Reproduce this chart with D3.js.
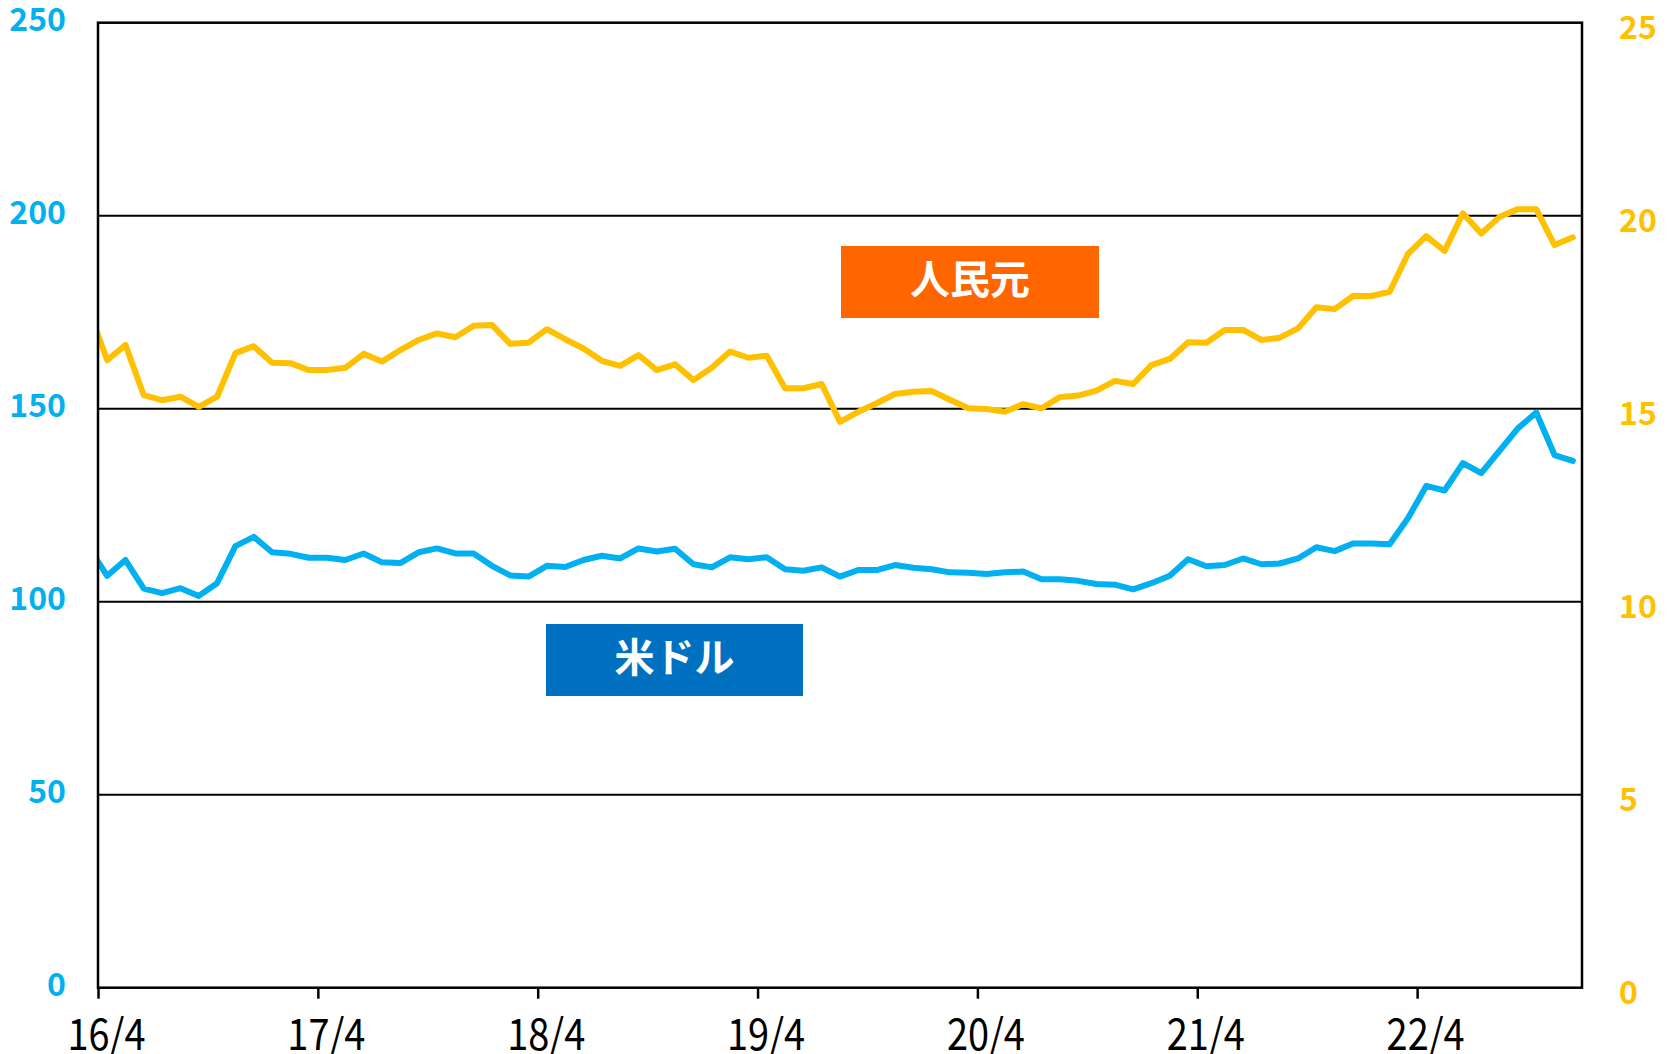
<!DOCTYPE html>
<meta charset="utf-8">
<html>
  <style>
    body, html{ margin: 0; background: #fff;}
    .grid line{ stroke: #000; stroke-width: 2; }
    .frame{ fill: none; stroke: #000; stroke-width: 2.5; }
    .line{ fill: none; stroke-width: 6; stroke-linejoin: round; stroke-linecap: round; }
    .yl text{ font-family: "Noto Sans CJK JP", "Noto Sans", sans-serif; font-weight: bold; font-size: 32px; }
    .xaxis text{ font-family: "Noto Sans CJK JP", sans-serif; font-size: 43px; fill: #000; }
    .xaxis line, .xaxis path{ stroke: #000; stroke-width: 2.5; }
    .tag text{ font-family: "Noto Sans CJK JP", sans-serif; font-weight: bold; font-size: 40px; fill: #fff; }
  </style>
  <body>
    <svg></svg>
    <script src="https://cdn.jsdelivr.net/npm/d3@7"></script>
    <script>
// months 2016/3 .. 2022/12 (first one sits left of the axis and is clipped)
var firstMonth = new Date(2016, 2, 1)
  , lastMonth = new Date(2022, 11, 1)
  , months = d3.timeMonth.range(firstMonth, d3.timeMonth.offset(lastMonth, 1))

// 米ドル (yen per dollar, left axis)
var usd = [114.1,
  106.7,110.8,103.4,102.2,103.5,101.5,104.8,114.4,116.8,112.8,112.4,111.4,
  111.4,110.8,112.5,110.2,110.0,112.8,113.8,112.5,112.5,109.3,106.8,106.5,
  109.3,109.0,110.8,111.9,111.2,113.8,113.0,113.7,109.7,108.9,111.5,111.0,
  111.5,108.4,108.0,108.9,106.5,108.2,108.2,109.5,108.8,108.4,107.6,107.5,
  107.2,107.6,107.8,105.8,105.8,105.4,104.6,104.4,103.2,104.8,106.7,111.0,
  109.2,109.5,111.2,109.7,109.9,111.2,114.1,113.1,115.1,115.1,114.9,121.6,
  130.0,128.8,135.9,133.3,139.1,144.9,149.0,138.0,136.5]

// 人民元 (yen per yuan, right axis)
var cny = [17.55,
  16.26,16.65,15.35,15.22,15.31,15.05,15.31,16.44,16.62,16.19,16.18,16.00,
  16.00,16.06,16.42,16.22,16.52,16.78,16.95,16.85,17.15,17.17,16.68,16.71,
  17.06,16.80,16.56,16.24,16.11,16.39,16.00,16.15,15.74,16.06,16.48,16.32,
  16.37,15.53,15.53,15.64,14.66,14.92,15.14,15.38,15.44,15.46,15.23,15.01,
  14.99,14.92,15.12,15.01,15.30,15.34,15.47,15.72,15.64,16.13,16.29,16.72,
  16.71,17.04,17.04,16.78,16.84,17.08,17.63,17.58,17.92,17.92,18.03,19.01,
  19.47,19.09,20.06,19.54,19.97,20.17,20.17,19.24,19.44]

var leftTicks = [0, 50, 100, 150, 200, 250]
  , rightTicks = [0, 5, 10, 15, 20, 25]
  , xTickMonths = [new Date(2016,3,1), new Date(2017,3,1), new Date(2018,3,1), new Date(2019,3,1),
                   new Date(2020,3,1), new Date(2021,3,1), new Date(2022,3,1)]
  , xTickLabels = ['16/4', '17/4', '18/4', '19/4', '20/4', '21/4', '22/4']

var w = 1675, h = 1054
  , L = 98, R = 1582, T = 22.7, B = 987.7
  , svg = d3.select('svg').attr('width', w).attr('height', h)

var start = new Date(2016, 3, 1)
  , idx = function(d){ return d3.timeMonth.count(start, d) }
  , x = d3.scaleLinear().domain([0, 81]).range([L, R])
  , yL = d3.scaleLinear().domain([0, 250]).range([B, T])
  , yR = d3.scaleLinear().domain([0, 25]).range([B, T])

svg.append('defs').append('clipPath').attr('id', 'plot')
  .append('rect').attr('x', L).attr('y', T).attr('width', R - L).attr('height', B - T)

// gridlines
svg.append('g').attr('class', 'grid').selectAll('line')
  .data(leftTicks.slice(1, -1)).enter().append('line')
  .attr('x1', L).attr('x2', R)
  .attr('y1', function(d){ return yL(d) }).attr('y2', function(d){ return yL(d) })

// lines
var lineL = d3.line().x(function(d, i){ return x(idx(months[i]) + 0.5) }).y(function(d){ return yL(d) })
  , lineR = d3.line().x(function(d, i){ return x(idx(months[i]) + 0.5) }).y(function(d){ return yR(d) })
var lines = svg.append('g').attr('clip-path', 'url(#plot)')
lines.append('path').attr('class', 'line').attr('stroke', '#00B0F0').attr('d', lineL(usd))
lines.append('path').attr('class', 'line').attr('stroke', '#FFC000').attr('d', lineR(cny))

svg.append('rect').attr('class', 'frame')
  .attr('x', L).attr('y', T).attr('width', R - L).attr('height', B - T)

// left labels
svg.append('g').attr('class', 'yl').selectAll('text')
  .data(leftTicks).enter().append('text')
  .attr('x', 66).attr('y', function(d){ return yL(d) - 3 })
  .attr('dy', '0.35em').attr('text-anchor', 'end').attr('fill', '#00B0F0')
  .text(function(d){ return d })

// right labels
svg.append('g').attr('class', 'yl').selectAll('text')
  .data(rightTicks).enter().append('text')
  .attr('x', 1619).attr('y', function(d){ return yR(d) + 5 })
  .attr('dy', '0.35em').attr('text-anchor', 'start').attr('fill', '#FFC000')
  .text(function(d){ return d })

// x axis
var xAxis = d3.axisBottom(x)
  .tickValues(xTickMonths.map(idx))
  .tickFormat(function(d, i){ return xTickLabels[i] })
  .tickSizeInner(11).tickSizeOuter(0).tickPadding(21)
var gx = svg.append('g').attr('class', 'xaxis').attr('transform', 'translate(0,' + B + ')').call(xAxis)
gx.select('.domain').remove()
gx.selectAll('text').attr('dx', 8).attr('font-family', null)
  .attr('textLength', 78).attr('lengthAdjust', 'spacingAndGlyphs')

// series tags
var tags = [
  { name: '人民元', x: 841, y: 246, w: 258, h: 72, fill: '#FF6600' },
  { name: '米ドル', x: 546, y: 624, w: 257, h: 72, fill: '#0070C0' }
]
var tg = svg.selectAll('.tag').data(tags).enter().append('g').attr('class', 'tag')
tg.append('rect').attr('x', function(d){ return d.x }).attr('y', function(d){ return d.y })
  .attr('width', function(d){ return d.w }).attr('height', function(d){ return d.h })
  .attr('fill', function(d){ return d.fill })
tg.append('text').attr('x', function(d){ return d.x + d.w / 2 }).attr('y', function(d){ return d.y + d.h / 2 - 2 })
  .attr('dy', '0.35em').attr('text-anchor', 'middle')
  .text(function(d){ return d.name })
    </script>
  </body>
</html>
